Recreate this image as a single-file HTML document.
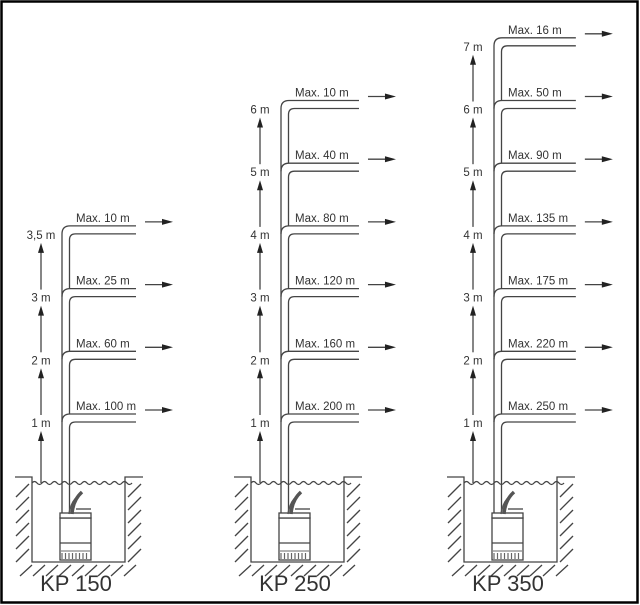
<!DOCTYPE html>
<html><head><meta charset="utf-8"><style>
html,body{margin:0;padding:0;background:#fff;}
svg{display:block;}
text{font-family:"Liberation Sans",Arial,sans-serif;fill:#333;}
</style></head><body>
<svg id="s" width="640" height="605" viewBox="0 0 640 605" xmlns="http://www.w3.org/2000/svg">
<rect x="1.5" y="1.5" width="636" height="601" fill="#fff" stroke="#000" stroke-width="2.5"/>
<g id="g" fill="none" stroke="#444" stroke-width="1.3"></g>
</svg>
<script>
const g=document.getElementById('g');const NS='http://www.w3.org/2000/svg';
function el(t,a,txt,parent){const e=document.createElementNS(NS,t);for(const k in a)e.setAttribute(k,a[k]);if(txt!=null)e.textContent=txt;(parent||g).appendChild(e);return e;}
const cols=[
 {dx:0,title:'KP 150',labels:['3,5 m','3 m','2 m','1 m'],max:['10','25','60','100']},
 {dx:219,title:'KP 250',labels:['6 m','5 m','4 m','3 m','2 m','1 m'],max:['10','40','80','120','160','200']},
 {dx:432,title:'KP 350',labels:['7 m','6 m','5 m','4 m','3 m','2 m','1 m'],max:['16','50','90','135','175','220','250']}
];
cols.forEach(c=>{
 const px=62+c.dx, ix=px+7.5, ex=px+74+c.dx/55;
 const axx=c.dx==219?260:(c.dx==432?473:41);
 const wl=32+c.dx, wr=125+c.dx;
 const n=c.max.length;
 const ys=[];for(let i=0;i<n;i++)ys.push(414-(n-1-i)*62.7);
 const pt=513;
 el('path',{d:`M${px} ${pt} V${ys[0]+8} Q${px} ${ys[0]} ${px+8} ${ys[0]} H${ex}`});
 for(let i=0;i<n;i++){
  const y=ys[i];
  if(i>0) el('path',{d:`M${px} ${y+8} Q${px} ${y} ${px+8} ${y} H${ex}`});
  const yb=(i<n-1)?ys[i+1]:pt;
  el('path',{d:`M${ex} ${y+8} H${ix+6} Q${ix} ${y+8} ${ix} ${y+14} V${yb}`});
  el('line',{x1:ex+9,y1:y-4,x2:ex+28,y2:y-4});
  el('path',{d:`M${ex+26} ${y-7} L${ex+37} ${y-4} L${ex+26} ${y-1}Z`,fill:'#222',stroke:'none'});
  el('text',{x:px+14,y:y-4,'font-size':'11.5',stroke:'none'},'Max. '+c.max[i]+' m');
  const ly=y+9;
  el('text',{x:axx,y:ly+4,'font-size':'11.5','text-anchor':'middle',stroke:'none'},c.labels[i]);
  const bottom=(i<n-1)?ys[i+1]+9-8:483;
  const tip=ly+8;
  el('line',{x1:axx,y1:bottom,x2:axx,y2:tip+6});
  el('path',{d:`M${axx-3} ${tip+10} L${axx} ${tip} L${axx+3} ${tip+10}Z`,fill:'#222',stroke:'none'});
 }
 el('path',{d:`M${wl-17} 477 H${wl} V562 H${wr} V477 H${wr+18}`});
 let w=`M${wl} 483`;for(let x=wl;x<wr;x+=10){w+=` q2.5 -3 5 0 q2.5 3 5 0`;}
 el('path',{d:w});
 for(let y=484;y<560;y+=13){el('line',{x1:wl-16,y1:y+13,x2:wl-3,y2:y});el('line',{x1:wr+3,y1:y+13,x2:wr+16,y2:y});}
 for(let x=wl-12;x<wr+8;x+=13){el('line',{x1:x,y1:576,x2:x+12,y2:565});}
 el('rect',{x:px-2,y:518,width:31,height:42,fill:'#fff'});
 el('rect',{x:px-2,y:513,width:31,height:5,fill:'#fff'});
 el('line',{x1:px-2,y1:543,x2:px+29,y2:543});
 for(let x=px;x<px+28;x+=3.5){el('line',{x1:x,y1:553,x2:x,y2:559,'stroke-width':'1.2',stroke:'#666'});}
 el('line',{x1:px-2,y1:551,x2:px+29,y2:551,stroke:'#888'});
 el('path',{d:`M${px+10} 514 Q${px+11} 500 ${px+20} 492`,'stroke-width':'3.5',stroke:'#555'});
 el('path',{d:`M${px+7} 514 Q${px+9} 502 ${px+15} 497`,'stroke-width':'1.5',stroke:'#555'});
 el('line',{x1:px+14,y1:509,x2:px+29,y2:509});
 el('text',{x:px+14,y:591,'font-size':'22','text-anchor':'middle',stroke:'none',fill:'#222'},c.title);
});
</script>
</body></html>
